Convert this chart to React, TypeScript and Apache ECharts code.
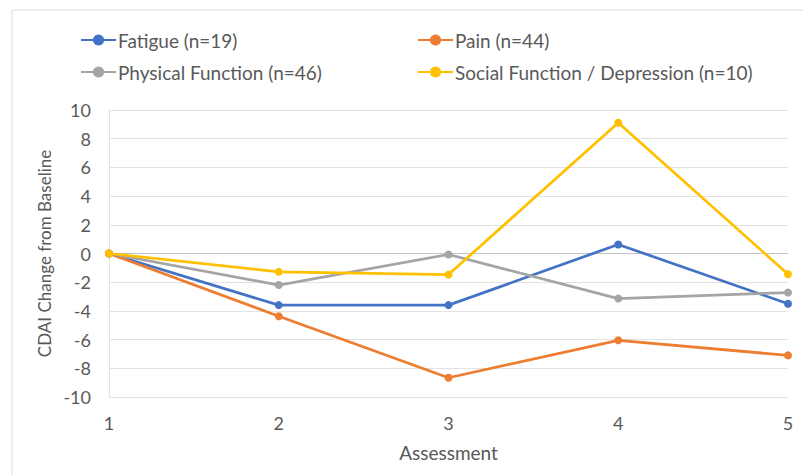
import React, { useEffect, useRef } from "react";
import * as echarts from "echarts";

const assessments = [1, 2, 3, 4, 5];
const fatigue = [0, -3.6, -3.6, 0.63, -3.5];
const pain = [0, -4.37, -8.66, -6.05, -7.1];
const physical = [0, -2.2, -0.07, -3.14, -2.72];
const social = [0, -1.28, -1.47, 9.11, -1.44];
const seriesNames = [
  "Fatigue (n=19)",
  "Pain (n=44)",
  "Physical Function (n=46)",
  "Social Function / Depression (n=10)",
];
const yTicks = [-10, -8, -6, -4, -2, 0, 2, 4, 6, 8, 10];
const colors = ["#4472C4", "#ED7D31", "#A5A5A5", "#FFC000"];

const FONT = "Lato";
const TEXT = "#595959";

export default function App() {
  const ref = useRef<HTMLDivElement>(null);
  useEffect(() => {
    document.body.style.margin = "0";
    const chart = echarts.init(ref.current!, null, { renderer: "svg" });
    const allData = [fatigue, pain, physical, social];
    const splitColors = yTicks.map((v) => (v === 0 ? "#c4c4c4" : "#e2e2e2"));
    const legendBase = {
      top: 30,
      orient: "vertical",
      padding: 0,
      itemGap: 12,
      itemWidth: 35,
      itemHeight: 14,
      textStyle: {
        fontFamily: FONT,
        fontSize: 19,
        lineHeight: 20,
        color: TEXT,
        padding: [0, 0, 0, -3],
      },
    };
    chart.setOption({
      animation: false,
      backgroundColor: "#ffffff",
      textStyle: { fontFamily: FONT, color: TEXT },
      graphic: [
        {
          type: "rect",
          shape: { x: 12, y: 10, width: 800, height: 480 },
          style: { fill: "none", stroke: "#dcdcdc", lineWidth: 1 },
          silent: true,
        },
      ],
      legend: [
        { ...legendBase, left: 80, data: [seriesNames[0], seriesNames[2]] },
        { ...legendBase, left: 417, data: [seriesNames[1], seriesNames[3]] },
      ],
      grid: { left: 109, right: 15, top: 110, bottom: 78, containLabel: false },
      xAxis: {
        type: "value",
        min: 1,
        max: 5,
        interval: 1,
        name: "Assessment",
        nameLocation: "middle",
        nameGap: 46,
        nameTextStyle: { fontFamily: FONT, fontSize: 19, color: TEXT },
        axisLine: { show: false },
        axisTick: { show: false },
        splitLine: { show: false },
        axisLabel: { margin: 17, fontFamily: FONT, fontSize: 18, color: TEXT },
      },
      yAxis: {
        type: "value",
        min: -10,
        max: 10,
        interval: 2,
        name: "CDAI Change from Baseline",
        nameLocation: "middle",
        nameGap: 53,
        nameRotate: 90,
        nameTextStyle: { fontFamily: FONT, fontSize: 17, color: TEXT },
        axisLine: { show: true, lineStyle: { color: "#e2e2e2", width: 1 } },
        axisTick: { show: false },
        splitLine: { show: true, lineStyle: { color: splitColors, width: 1 } },
        axisLabel: { margin: 18, fontFamily: FONT, fontSize: 18, color: TEXT },
      },
      series: seriesNames.map((name, i) => ({
        name,
        type: "line",
        data: assessments.map((x, j) => [x, allData[i][j]]),
        color: colors[i],
        symbol: "circle",
        symbolSize: 8,
        lineStyle: { width: 2.75, color: colors[i] },
        itemStyle: { color: colors[i] },
        z: i === 3 ? 5 : 3,
      })),
    });
    return () => chart.dispose();
  }, []);
  return <div ref={ref} style={{ width: 803, height: 475 }} />;
}
